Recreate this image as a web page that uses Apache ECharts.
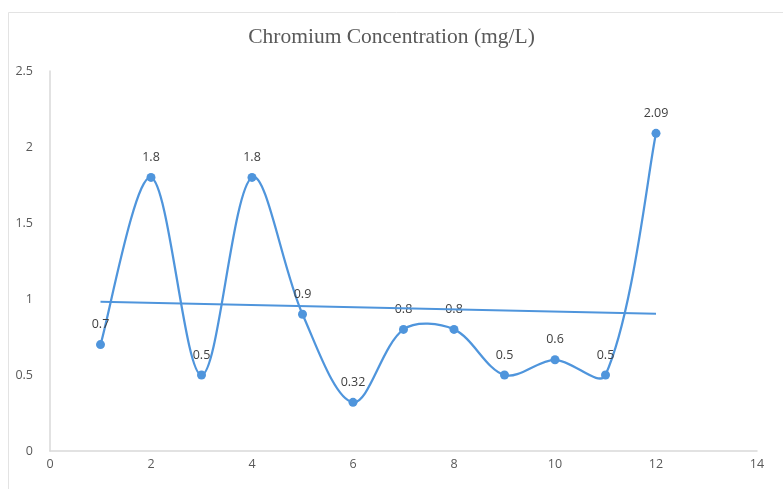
<!DOCTYPE html>
<html>
<head>
<meta charset="utf-8">
<script src="https://cdn.jsdelivr.net/npm/echarts@6/dist/echarts.min.js"></script>
<style>
  html, body { margin: 0; padding: 0; background: #fff; }
  #chart { width: 783px; height: 489px; }
</style>
</head>
<body>
<div id="chart"></div>
<script>
// Sample number (x) and measured chromium concentration (mg/L)
const samples = [1, 2, 3, 4, 5, 6, 7, 8, 9, 10, 11, 12];
const concentration = [0.7, 1.8, 0.5, 1.8, 0.9, 0.32, 0.8, 0.8, 0.5, 0.6, 0.5, 2.09];
const yTicks = [0, 0.5, 1, 1.5, 2, 2.5];
const xTicks = [0, 2, 4, 6, 8, 10, 12, 14];

// Least-squares linear trendline over the measured values
function linearFit(xs, ys) {
  const n = xs.length;
  const mx = xs.reduce((a, b) => a + b, 0) / n;
  const my = ys.reduce((a, b) => a + b, 0) / n;
  let sxy = 0, sxx = 0;
  for (let i = 0; i < n; i++) {
    sxy += (xs[i] - mx) * (ys[i] - my);
    sxx += (xs[i] - mx) * (xs[i] - mx);
  }
  const slope = sxy / sxx;
  return x => my + slope * (x - mx);
}
const fit = linearFit(samples, concentration);
const xFirst = samples[0], xLast = samples[samples.length - 1];
const trend = [[xFirst, fit(xFirst)], [xLast, fit(xLast)]];
const points = samples.map((x, i) => [x, concentration[i]]);

const blue = '#4f95dc';
const textGray = '#595959';
const axisGray = '#d9d9d9';

// Smoothed path through the data points (pixel space): Catmull-Rom tangents,
// with each side of a tangent weighted by the length of the adjoining segment
function smoothPath(px) {
  const dist = (a, b) => Math.hypot(b[0] - a[0], b[1] - a[1]);
  let d = 'M' + px[0][0] + ' ' + px[0][1];
  for (let i = 0; i < px.length - 1; i++) {
    const p0 = px[Math.max(i - 1, 0)];
    const p1 = px[i];
    const p2 = px[i + 1];
    const p3 = px[Math.min(i + 2, px.length - 1)];
    const d01 = dist(p0, p1), d12 = dist(p1, p2), d23 = dist(p2, p3);
    const s1 = d01 > 0 ? 2 * d12 / (d01 + d12) : 1;
    const s2 = d23 > 0 ? 2 * d12 / (d12 + d23) : 1;
    const c1x = p1[0] + (p2[0] - p0[0]) / 6 * s1;
    const c1y = p1[1] + (p2[1] - p0[1]) / 6 * s1;
    const c2x = p2[0] - (p3[0] - p1[0]) / 6 * s2;
    const c2y = p2[1] - (p3[1] - p1[1]) / 6 * s2;
    d += ' C' + c1x + ' ' + c1y + ' ' + c2x + ' ' + c2y + ' ' + p2[0] + ' ' + p2[1];
  }
  return d;
}

const chart = echarts.init(document.getElementById('chart'), null, { renderer: 'canvas' });
chart.setOption({
  animation: false,
  backgroundColor: '#ffffff',
  graphic: [{
    type: 'rect',
    left: 6, top: 10,
    shape: { width: 820, height: 520 },
    style: { fill: 'none', stroke: '#e3e3e3', lineWidth: 1 },
    silent: true
  }],
  title: {
    text: 'Chromium Concentration (mg/L)',
    left: 'center',
    top: 21,
    textStyle: {
      fontFamily: 'Liberation Serif',
      fontSize: 21.5,
      fontWeight: 'normal',
      color: textGray
    }
  },
  grid: { left: 50, right: 26, top: 71, bottom: 38, containLabel: false },
  xAxis: {
    type: 'value',
    min: xTicks[0],
    max: xTicks[xTicks.length - 1],
    interval: 2,
    axisLine: { show: true, lineStyle: { color: axisGray, width: 1.5 } },
    axisTick: { show: false },
    splitLine: { show: false },
    axisLabel: { color: textGray, fontFamily: 'Open Sans', fontSize: 12.5, margin: 7 }
  },
  yAxis: {
    type: 'value',
    min: yTicks[0],
    max: yTicks[yTicks.length - 1],
    interval: 0.5,
    axisLine: { show: true, lineStyle: { color: axisGray, width: 1.5 } },
    axisTick: { show: false },
    splitLine: { show: false },
    axisLabel: { color: textGray, fontFamily: 'Open Sans', fontSize: 12.5, margin: 17 }
  },
  series: [
    {
      // smoothed connecting curve
      name: 'Chromium curve',
      type: 'custom',
      data: points,
      silent: true,
      z: 1,
      renderItem: (params, api) => {
        if (params.dataIndex !== 0) return null;
        const px = points.map(p => api.coord(p));
        return {
          type: 'path',
          shape: { pathData: smoothPath(px) },
          style: { fill: 'none', stroke: blue, lineWidth: 2.25 }
        };
      }
    },
    {
      name: 'Chromium',
      type: 'line',
      data: points,
      symbol: 'circle',
      symbolSize: 9,
      lineStyle: { width: 0, opacity: 0 },
      itemStyle: { color: blue },
      label: {
        show: true,
        position: 'top',
        distance: 9,
        color: '#404040',
        fontFamily: 'Open Sans',
        fontSize: 12.5,
        formatter: p => String(p.value[1])
      },
      z: 2
    },
    {
      name: 'Linear trend',
      type: 'line',
      data: trend,
      symbol: 'none',
      lineStyle: { color: blue, width: 2 },
      silent: true,
      z: 3
    }
  ]
});
</script>
</body>
</html>
